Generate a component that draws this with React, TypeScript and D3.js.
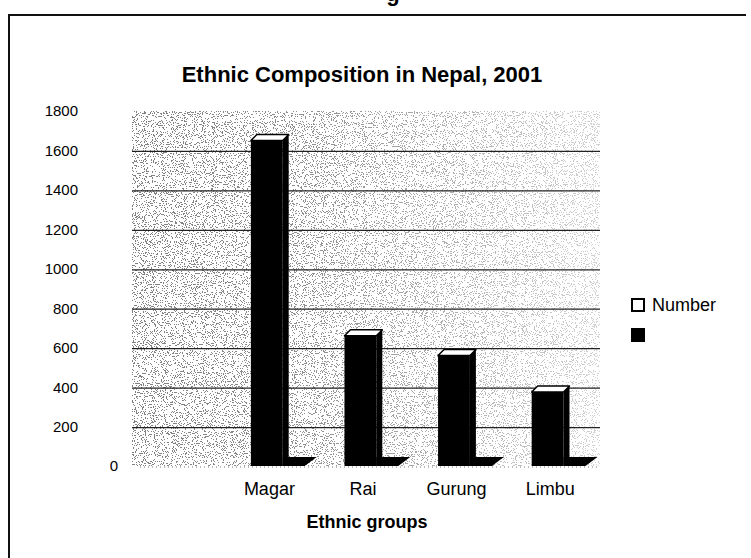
import { useEffect, useRef } from 'react';
import * as d3 from 'd3';

// values
const categories = ['Magar', 'Rai', 'Gurung', 'Limbu'];
const numbers = [1650, 660, 560, 375];
const yTicks = [0, 200, 400, 600, 800, 1000, 1200, 1400, 1600, 1800];
const legendNames = ['Number', ''];

const W = 751;
const H = 558;
const font = '"Liberation Sans", Arial, sans-serif';

export default function App() {
	const svgRef = useRef<SVGSVGElement>(null);

	useEffect(() => {
		const svg = d3.select(svgRef.current);
		svg.selectAll('*').remove();

		// first slot of the category axis is empty in the original
		const xScale = d3.scaleBand<string>()
			.domain([' ', ...categories])
			.range([132, 600]);
		const yScale = d3.scaleLinear()
			.domain([0, 1800])
			.range([466, 111]);
		const bw = xScale.bandwidth();
		const dx = 6, dy = -6;

		const defs = svg.append('defs');
		const grain = defs.append('filter')
			.attr('id', 'grain')
			.attr('x', 0).attr('y', 0).attr('width', '100%').attr('height', '100%');
		grain.append('feTurbulence')
			.attr('type', 'fractalNoise')
			.attr('baseFrequency', 0.9)
			.attr('numOctaves', 2)
			.attr('seed', 7)
			.attr('result', 'noise');
		grain.append('feColorMatrix')
			.attr('in', 'noise')
			.attr('type', 'matrix')
			.attr('values', '0 0 0 0 0  0 0 0 0 0  0 0 0 0 0  -2 0 0 0 1.3')
			.attr('result', 'a');
		const ct = grain.append('feComponentTransfer').attr('in', 'a').attr('result', 'dots');
		ct.append('feFuncA').attr('type', 'discrete').attr('tableValues', '0 1');
		grain.append('feComposite')
			.attr('in', 'dots').attr('in2', 'SourceAlpha').attr('operator', 'in');

		// denser scan noise on the left of the wall, lighter to the right
		const grad = defs.append('linearGradient').attr('id', 'dens');
		grad.append('stop').attr('offset', '0%').attr('stop-color', '#fff').attr('stop-opacity', 0.5);
		grad.append('stop').attr('offset', '35%').attr('stop-color', '#fff').attr('stop-opacity', 0.45);
		grad.append('stop').attr('offset', '100%').attr('stop-color', '#fff').attr('stop-opacity', 0.18);
		defs.append('mask').attr('id', 'densMask')
			.append('rect')
			.attr('x', 132).attr('y', yScale(1800)).attr('width', 468).attr('height', yScale(0) - yScale(1800))
			.attr('fill', 'url(#dens)');

		// frame (only left and top edges survived the scan)
		svg.append('path')
			.attr('d', `M9,${H} L9,15 L746,15`)
			.attr('fill', 'none').attr('stroke', '#111').attr('stroke-width', 2);
		svg.append('text')
			.attr('x', 393).attr('y', 1)
			.attr('font-family', font).attr('font-weight', 'bold').attr('font-size', 22)
			.attr('text-anchor', 'middle')
			.text('g');

		// back wall texture
		svg.append('g').attr('mask', 'url(#densMask)')
			.append('rect')
			.attr('x', 132).attr('y', yScale(1800)).attr('width', 468).attr('height', yScale(0) - yScale(1800))
			.attr('fill', '#333')
			.attr('filter', 'url(#grain)');

		svg.append('g')
			.selectAll('line')
			.data(yTicks.filter(t => t > 0 && t < 1800))
			.join('line')
			.attr('x1', 132).attr('x2', 600)
			.attr('y1', d => yScale(d) + 1).attr('y2', d => yScale(d) + 1)
			.attr('stroke', '#222').attr('stroke-width', 1.2);
		svg.append('line')
			.attr('x1', 140).attr('x2', 600)
			.attr('y1', yScale(0) + 1).attr('y2', yScale(0) + 1)
			.attr('stroke', '#777').attr('stroke-dasharray', '1 3');

		// y tick labels
		svg.append('g')
			.selectAll('text')
			.data(yTicks)
			.join('text')
			.attr('x', d => d === 0 ? 118 : 78)
			.attr('y', d => yScale(d))
			.attr('dy', '0.36em')
			.attr('text-anchor', 'end')
			.attr('font-family', font).attr('font-size', 15)
			.text(d => d);

		// 3d bars
		const bars = svg.append('g')
			.selectAll('g')
			.data(categories.map((c, i) => ({ c, v: numbers[i] })))
			.join('g');
		const fx = d => (xScale(d.c) as number) + bw * 0.27;
		const fw = bw * 0.34;
		const y0 = yScale(0);
		bars.append('polygon')
			.attr('points', d => {
				const x = fx(d) + fw;
				return [[x, y0], [x, y0 - 9], [x + 34, y0 - 9], [x + 22, y0]].join(' ');
			})
			.attr('fill', '#000');
		bars.append('rect')
			.attr('x', fx).attr('y', d => yScale(d.v))
			.attr('width', fw).attr('height', d => y0 - yScale(d.v))
			.attr('fill', '#000');
		bars.append('polygon')
			.attr('points', d => {
				const x = fx(d) + fw, y = yScale(d.v);
				return [[x, y], [x + dx, y + dy], [x + dx, y0 + dy], [x, y0]].join(' ');
			})
			.attr('fill', '#000');
		bars.append('polygon')
			.attr('points', d => {
				const x = fx(d), y = yScale(d.v);
				return [[x, y], [x + dx, y + dy], [x + fw + dx, y + dy], [x + fw, y]].join(' ');
			})
			.attr('fill', '#fff').attr('stroke', '#000').attr('stroke-width', 1.5)
			.attr('stroke-linejoin', 'round');

		// category labels
		svg.append('g')
			.selectAll('text')
			.data(categories)
			.join('text')
			.attr('x', d => (xScale(d) as number) + bw / 2 - 3)
			.attr('y', 495)
			.attr('text-anchor', 'middle')
			.attr('font-family', font).attr('font-size', 18)
			.text(d => d);

		svg.append('text')
			.attr('x', 367).attr('y', 528)
			.attr('text-anchor', 'middle')
			.attr('font-family', font).attr('font-size', 18).attr('font-weight', 'bold')
			.text('Ethnic groups');

		svg.append('text')
			.attr('x', 362).attr('y', 82)
			.attr('text-anchor', 'middle')
			.attr('font-family', font).attr('font-size', 22).attr('font-weight', 'bold')
			.text('Ethnic Composition in Nepal, 2001');

		// legend
		const legend = svg.append('g')
			.selectAll('g')
			.data(legendNames)
			.join('g')
			.attr('transform', (d, i) => `translate(632, ${299 + i * 30})`);
		legend.append('rect')
			.attr('width', 12).attr('height', 12)
			.attr('fill', (d, i) => i === 0 ? '#fff' : '#000')
			.attr('stroke', '#000').attr('stroke-width', 2);
		legend.append('text')
			.attr('x', 20).attr('y', 12)
			.attr('font-family', font).attr('font-size', 18)
			.text(d => d);
	}, []);

	return (
		<svg
			ref={svgRef}
			width={W}
			height={H}
			style={{ position: 'absolute', left: 0, top: 0, background: '#fff' }}
		/>
	);
}
